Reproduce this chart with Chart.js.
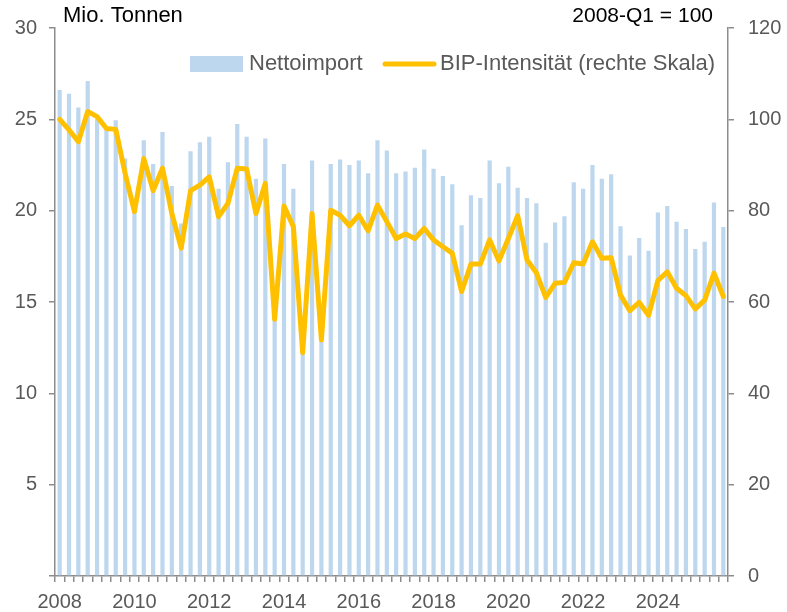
<!DOCTYPE html>
<html>
<head>
<meta charset="utf-8">
<script src="https://cdn.jsdelivr.net/npm/chart.js@4.4.1/dist/chart.umd.min.js"></script>
<style>
  html, body { margin: 0; padding: 0; background: #fff; }
  #wrap { width: 787px; height: 612px; }
</style>
</head>
<body>
<div id="wrap"><canvas id="chart" width="787" height="612"></canvas></div>
<script>
// quarterly categories 2008-Q1 .. 2025-Q4
const quarters = [];
for (let y = 2008; y <= 2025; y++) {
  for (let q = 1; q <= 4; q++) quarters.push(y + "-Q" + q);
}

// Nettoimport, Mio. Tonnen (left scale)
const netImport = [
  26.6, 26.4, 25.65, 27.1, 25.0, 24.4, 24.95, 22.85,
  20.2, 23.85, 22.55, 24.3, 21.35, 19.3, 23.25, 23.75,
  24.05, 21.2, 22.65, 24.75, 24.05, 21.75, 23.95, 15.0,
  22.55, 21.2, 13.0, 22.75, 14.0, 22.55, 22.8, 22.5,
  22.75, 22.05, 23.85, 23.3, 22.05, 22.15, 22.35, 23.35,
  22.3, 21.9, 21.45, 19.2, 20.85, 20.7, 22.75, 21.5,
  22.4, 21.25, 20.7, 20.4, 18.25, 19.35, 19.7, 21.55,
  21.2, 22.5, 21.75, 22.0, 19.15, 17.55, 18.5, 17.8,
  19.9, 20.25, 19.4, 19.0, 17.9, 18.3, 20.45, 19.1
];

// BIP-Intensität, 2008-Q1 = 100 (right scale)
const gdpIntensity = [
  100, 97.7, 95.1, 101.7, 100.6, 98.0, 97.8, 88.2,
  79.8, 91.4, 84.4, 89.3, 79.4, 71.8, 84.4, 85.6,
  87.4, 78.7, 81.6, 89.3, 89.1, 79.4, 86.0, 56.2,
  81.0, 76.5, 48.9, 79.4, 51.7, 80.1, 79.0, 76.7,
  79.0, 75.6, 81.2, 77.6, 73.9, 74.9, 73.9, 76.1,
  73.6, 72.1, 70.7, 62.3, 68.3, 68.3, 73.6, 69.0,
  73.9, 78.9, 69.2, 66.4, 61.0, 64.1, 64.3, 68.6,
  68.3, 73.2, 69.6, 69.7, 61.5, 58.1, 59.9, 57.1,
  64.7, 66.6, 63.0, 61.4, 58.5, 60.4, 66.3, 61.2
];

const seriesNames = ["Nettoimport", "BIP-Intensität (rechte Skala)"];
const leftUnit = "Mio. Tonnen";
const rightUnit = "2008-Q1 = 100";

const barColor = "#BDD7EE";
const lineColor = "#FFC000";
const axisColor = "#8C8C8C";
const textColor = "#595959";
const fontFamily = "'Liberation Sans', Arial, sans-serif";
const tickFont = { family: fontFamily, size: 20 };

// titles above the axes and the legend inside the plot
const overlay = {
  id: "overlay",
  afterDraw(chart) {
    const c = chart.ctx;
    c.save();
    c.textBaseline = "middle";
    c.fillStyle = "#000";
    c.font = "22px " + fontFamily;
    c.textAlign = "left";
    c.fillText(leftUnit, 63, 16);
    c.font = "21px " + fontFamily;
    c.textAlign = "right";
    c.fillText(rightUnit, 713, 16);

    c.font = "22px " + fontFamily;
    c.fillStyle = barColor;
    c.fillRect(190, 56, 53, 16);
    c.fillStyle = textColor;
    c.textAlign = "left";
    c.fillText(seriesNames[0], 249, 64);
    c.strokeStyle = lineColor;
    c.lineWidth = 5;
    c.lineCap = "round";
    c.beginPath();
    c.moveTo(385, 64);
    c.lineTo(434, 64);
    c.stroke();
    c.fillText(seriesNames[1], 440, 64);
    c.restore();
  },
};

function axisGrid() {
  return { drawOnChartArea: false, drawTicks: true, tickLength: 6, color: axisColor, lineWidth: 1.5 };
}

new Chart(document.getElementById("chart"), {
  type: "bar",
  data: {
    labels: quarters,
    datasets: [
      {
        type: "bar",
        label: seriesNames[0],
        data: netImport,
        backgroundColor: barColor,
        yAxisID: "y",
        order: 2,
        barPercentage: 0.45,
        categoryPercentage: 1,
      },
      {
        type: "line",
        label: seriesNames[1],
        data: gdpIntensity,
        borderColor: lineColor,
        borderWidth: 5,
        pointRadius: 0,
        tension: 0,
        borderJoinStyle: "round",
        borderCapStyle: "round",
        yAxisID: "y1",
        order: 1,
      },
    ],
  },
  options: {
    responsive: false,
    animation: false,
    layout: { padding: { top: 28, left: 0, right: 0, bottom: 0 } },
    plugins: { legend: { display: false }, tooltip: { enabled: false } },
    scales: {
      x: {
        offset: true,
        grid: Object.assign(axisGrid(), { offset: true }),
        border: { color: axisColor, width: 1.5 },
        ticks: {
          autoSkip: false,
          maxRotation: 0,
          minRotation: 0,
          padding: 8,
          color: textColor,
          font: tickFont,
          callback: (v, i) => (i % 8 === 0 ? quarters[i].slice(0, 4) : ""),
        },
        afterFit: (s) => { s.height = 36; },
      },
      y: {
        position: "left",
        min: 0,
        max: 30,
        grid: axisGrid(),
        border: { color: axisColor, width: 1.5 },
        ticks: {
          stepSize: 5,
          padding: 12,
          color: textColor,
          font: tickFont,
          callback: (v) => (v === 0 ? "" : v),
        },
        afterFit: (s) => { s.width = 55; },
      },
      y1: {
        position: "right",
        min: 0,
        max: 120,
        grid: axisGrid(),
        border: { color: axisColor, width: 1.5 },
        ticks: { stepSize: 20, padding: 14, color: textColor, font: tickFont },
        afterFit: (s) => { s.width = 59; },
      },
    },
  },
  plugins: [overlay],
});
</script>
</body>
</html>
